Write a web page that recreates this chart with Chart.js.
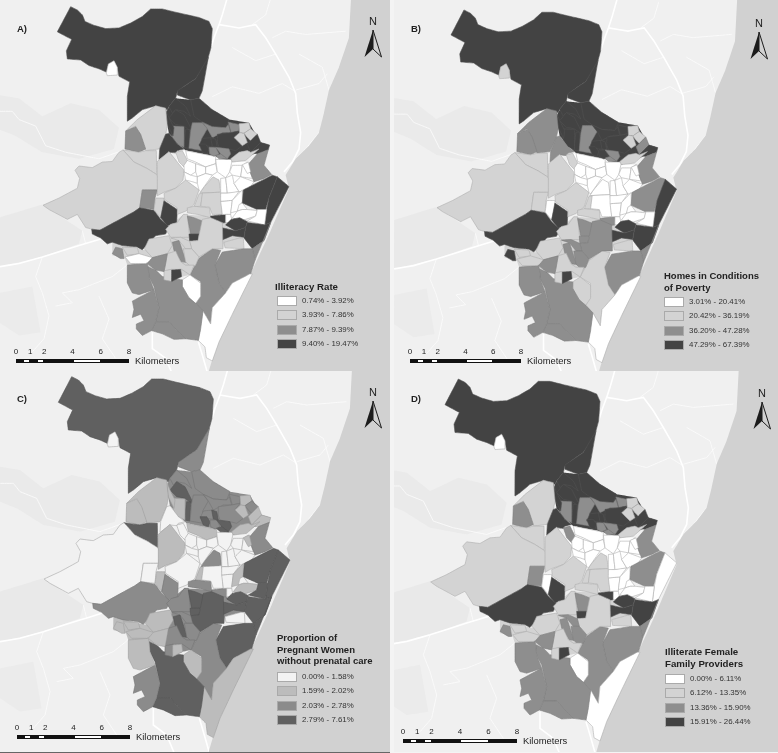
<!DOCTYPE html>
<html lang="en">
<head>
<meta charset="UTF-8">
<title>Maps</title>
<script src="https://cdn.jsdelivr.net/npm/chart.js"></script>
<style>
  html, body { margin: 0; padding: 0; background: #f4f4f4; }
  body { position: relative; width: 778px; height: 753px; overflow: hidden; font-family: "Liberation Sans", Arial, sans-serif; color: #222; }
  canvas { position: absolute; filter: blur(0.4px); }
  .lbl { position: absolute; white-space: nowrap; line-height: 1; transform: translateY(-50%); }
  .swatch { position: absolute; width: 20px; height: 10px; box-sizing: border-box; border: 1px solid #aaa; }
  .seg { position: absolute; height: 4px; box-sizing: border-box; border: 1px solid #111; }
  svg { position: absolute; }
</style>
</head>
<body>
<script>
// map units: 3x pixels of the lower left map, every panel has its own offset and scale
const sea = [[1058,-60],[1050,100],[1020,190],[990,260],[975,330],[960,390],[930,430],[890,470],[860,520],[870,560],[815,690],[765,800],[700,940],[650,1050],[622,1145],[1250,1145],[1250,-60]];
const shadeWest = [[0,275],[60,285],[130,340],[215,300],[300,320],[360,375],[345,440],[240,470],[130,450],[50,400],[0,380]];
const shadeSouth = [[0,650],[130,610],[250,690],[240,730],[130,770],[0,800]];
const shadeLow = [[0,880],[100,860],[125,1000],[60,1010],[0,970]];

const roadsWide = [
  [[0,800],[60,790],[130,770],[240,735],[305,715]],
  [[660,60],[720,70],[770,60],[800,100],[830,150],[870,220],[890,270],[895,330],[905,390],[900,440],[880,480],[855,510]],
  [[690,-40],[670,30],[660,60],[645,100],[636,130]],
  [[460,1000],[460,1050],[500,1080],[525,1140]],
  [[598,1030],[610,1070],[630,1140]]
];
const roadsThin = [
  [[760,60],[800,30],[815,-20]],
  [[900,150],[970,190],[990,260]],
  [[890,260],[960,240],[985,210]],
  [[640,280],[700,250],[780,270],[850,240],[890,265]],
  [[700,130],[770,170],[830,150]],
  [[880,480],[920,440],[960,390]],
  [[820,100],[860,80],[920,90],[1040,80]],
  [[0,325],[40,325],[60,350],[110,370],[140,430],[200,450],[300,470],[370,445]],
  [[130,770],[110,830],[130,880],[150,950],[135,1020],[100,1060]],
  [[250,690],[260,730]],
  [[390,790],[340,830],[240,870],[190,880],[220,910],[170,920]],
  [[300,890],[330,960],[310,1020],[350,1080]]
];

// drawn first, they close the small gaps between tracts
const underNorth = [[505,320],[530,285],[575,290],[640,320],[690,350],[750,360],[785,420],[812,428],[780,450],[700,480],[650,463],[560,445],[555,440],[510,392],[500,340]];
const underCentre = [[530,450],[560,445],[700,480],[745,480],[765,540],[730,565],[730,610],[745,625],[700,650],[680,665],[675,640],[665,575],[660,530],[610,560],[600,565],[560,535],[535,480]];
const underSouth = [[500,685],[553,640],[635,645],[680,665],[735,710],[675,725],[672,745],[640,745],[600,775],[573,825],[548,830],[518,845],[495,845],[495,815],[505,760],[515,710]];
const underWest = [[340,725],[430,748],[505,760],[495,815],[447,800],[385,795],[378,775],[340,765]];

const north = [[215,5],[235,15],[250,30],[258,50],[285,62],[320,72],[360,70],[395,55],[430,35],[455,12],[490,12],[530,22],[600,38],[630,50],[640,72],[636,130],[625,170],[615,190],[590,225],[560,245],[535,265],[530,285],[510,310],[505,320],[470,308],[430,320],[400,345],[385,355],[385,280],[392,235],[360,218],[355,190],[345,170],[328,180],[322,205],[300,195],[270,185],[245,168],[205,165],[202,140],[218,105],[175,82]];
const island = [[322,208],[328,180],[345,170],[355,190],[355,214],[325,216]];
const stripNE = [[628,160],[610,262],[600,285],[575,290],[535,275],[535,262],[590,225]];
const neckA = [[510,310],[530,285],[560,310],[575,340],[555,325],[530,320],[520,330]];
const neckB = [[575,290],[600,285],[640,320],[690,350],[680,375],[640,372],[610,358],[585,340]];
const neckC = [[510,345],[530,320],[555,335],[575,375],[575,385],[555,370],[530,365]];
const neckD = [[560,380],[572,380],[570,438],[553,435]];
const neckE = [[520,370],[555,372],[555,435],[535,425],[520,405]];
const neckF = [[500,320],[510,345],[525,375],[522,400],[505,365]];
const westUpper = [[380,385],[415,350],[470,308],[500,315],[505,370],[500,395],[480,440],[440,445],[425,400],[410,370]];
const westInner = [[380,385],[410,372],[425,395],[440,440],[420,450],[378,440]];
const westWedge = [[510,392],[520,405],[535,425],[555,440],[535,445],[530,452],[510,450],[480,472],[482,440],[500,395]];
const westTri = [[372,443],[420,450],[440,445],[472,445],[473,518],[445,500],[405,480]];
const westBig = [[372,443],[405,480],[445,500],[473,518],[483,535],[475,565],[430,565],[422,620],[405,632],[303,688],[278,685],[260,680],[235,640],[205,655],[150,625],[132,612],[180,590],[235,560],[242,530],[228,505],[240,492],[280,497],[310,480],[340,478],[360,450]];
const midSquare = [[430,565],[475,565],[468,590],[465,625],[422,620]];
const midTall = [[475,478],[510,448],[535,480],[555,505],[552,535],[530,560],[495,572],[475,583]];
const midSliver = [[470,590],[495,590],[495,610],[485,650],[465,625]];
const midDark = [[495,598],[535,625],[533,665],[505,675],[485,650]];
const midWide = [[495,575],[530,560],[560,535],[600,565],[585,610],[560,630],[535,640],[535,620],[497,595]];
const midPeak = [[603,575],[612,560],[642,525],[660,535],[665,572]];
const midStrip = [[600,577],[612,575],[605,615],[585,617]];
const midBox = [[610,575],[665,572],[670,640],[640,640],[632,618],[605,615]];
const midBar = [[565,620],[585,615],[632,620],[635,650],[595,640],[565,635]];
const midTip = [[635,645],[680,640],[680,665],[650,668],[635,650]];
const centreBand = [[560,445],[650,463],[650,485],[620,495],[590,480],[565,470]];
const cell1 = [[530,450],[550,445],[565,475],[555,495],[540,480]];
const cell2 = [[555,490],[565,475],[590,485],[590,510],[575,520],[556,510]];
const cell3 = [[590,485],[620,495],[620,515],[595,525],[590,510]];
const cell4 = [[620,495],[650,485],[655,510],[640,520],[620,515]];
const cell5 = [[650,472],[700,472],[692,510],[680,528],[655,510]];
const cell6 = [[555,510],[575,520],[595,525],[595,545],[580,540],[560,535]];
const cell7 = [[595,525],[620,515],[640,520],[605,570],[600,565],[595,545]];
const cell8 = [[665,530],[680,528],[685,575],[665,575]];
const cell9 = [[680,528],[700,520],[705,545],[720,570],[700,575],[685,575]];
const cell10 = [[692,510],[700,490],[730,490],[725,525],[700,520]];
const cell11 = [[730,490],[745,480],[760,530],[725,525]];
const cell12 = [[705,545],[725,525],[765,540],[755,555],[730,570],[720,570]];
const cell13 = [[665,600],[700,597],[695,640],[670,640]];
const cell14 = [[685,575],[720,570],[700,597],[665,600],[665,575]];
const cell15 = [[680,640],[695,640],[700,665],[680,665]];
const eastSliver = [[700,597],[730,565],[730,600],[715,630],[695,635]];
const eastNotch = [[720,610],[730,605],[745,625],[730,625],[715,630]];
const eastLow = [[745,625],[775,628],[770,645],[725,660],[700,650],[715,630],[730,625]];
const eastBlock = [[733,565],[820,520],[835,525],[810,590],[800,625],[775,625],[730,605]];
const eastCoast = [[835,525],[870,555],[815,665],[797,672],[803,625],[810,590]];
const eastCorner = [[775,625],[803,625],[797,672],[745,660],[770,645]];
const row1 = [[697,655],[722,650],[745,662],[740,680],[710,690],[680,672]];
const row2 = [[665,680],[710,690],[740,680],[735,710],[700,705],[665,720]];
const row3 = [[745,665],[797,672],[815,665],[795,720],[760,745],[735,712],[740,680]];
const coastMid = [[815,665],[768,780],[760,745],[795,720]];
const smallBlock = [[675,725],[722,712],[733,713],[735,745],[678,742]];
const southEast = [[648,795],[670,755],[735,745],[760,745],[768,780],[755,822],[700,850],[680,880],[660,850]];
const southMid = [[573,825],[600,775],[640,745],[665,750],[648,795],[660,850],[680,880],[655,915],[640,925],[635,975],[612,935],[590,912],[605,845]];
const southWhite = [[550,840],[573,825],[605,850],[605,890],[590,912],[570,895],[550,860]];
const beach = [[752,822],[760,822],[700,945],[660,1030],[640,1088],[622,1078],[618,1045],[598,1025],[612,935],[635,975],[640,925],[680,880],[700,850]];
const southBig = [[447,800],[470,810],[490,830],[530,838],[550,840],[550,860],[570,895],[590,912],[612,935],[605,990],[598,1025],[560,1020],[530,990],[510,968],[470,968],[480,925],[465,860],[450,830]];
const southFoot = [[458,995],[470,968],[510,968],[530,990],[560,1020],[525,1022],[490,1005]];
const southWest = [[400,905],[465,870],[480,925],[470,968],[458,995],[430,1010],[412,990],[412,975],[435,965],[425,945],[400,955],[405,930]];
const southUpper = [[385,795],[445,790],[447,800],[450,830],[465,870],[420,885],[400,880],[385,850]];
const waist = [[278,685],[303,688],[405,632],[422,620],[465,628],[485,655],[510,678],[500,700],[470,705],[430,748],[415,740],[370,735],[340,725],[325,730],[305,712],[280,700]];
const lowA = [[436,745],[450,715],[510,705],[520,735],[505,760],[460,772]];
const lowB = [[500,685],[515,670],[535,665],[553,640],[565,640],[570,690],[572,710],[545,710],[515,710]];
const lowC = [[565,645],[585,650],[610,660],[610,690],[600,700],[575,700]];
const lowD = [[570,700],[600,700],[597,720],[572,722]];
const lowE = [[610,655],[635,650],[670,665],[672,745],[640,745],[600,770],[578,745],[572,722],[597,720]];
const lowF = [[515,712],[545,710],[572,722],[578,745],[560,745],[540,720]];
const lowG = [[520,725],[540,720],[562,787],[548,785],[525,750]];
const lowH = [[553,745],[578,745],[600,770],[590,795],[575,800],[560,785]];
const lowI = [[505,760],[530,752],[545,785],[560,795],[585,795],[573,825],[548,808],[518,808],[495,815]];
const lowJ = [[495,812],[518,808],[518,845],[495,840]];
const lowK = [[518,810],[545,808],[548,830],[518,845]];
const lowL = [[340,760],[350,740],[370,745],[375,775],[365,775]];
const lowM = [[370,740],[415,742],[420,760],[385,765]];
const lowN = [[378,770],[420,760],[470,775],[440,790],[395,790]];
const lowO = [[460,772],[505,760],[500,790],[495,815],[470,810],[445,790]];
const neA = [[580,360],[610,360],[625,378],[608,408],[610,445],[570,438],[575,385]];
const neB = [[610,358],[640,372],[680,375],[688,365],[695,390],[670,390],[640,405],[625,378]];
const neC = [[688,358],[720,365],[720,385],[697,390]];
const neD = [[655,395],[695,390],[720,385],[705,405],[730,430],[710,445],[690,440],[660,435],[655,420]];
const neE = [[720,363],[750,360],[755,378],[735,392],[722,390]];
const neF = [[735,392],[755,378],[775,395],[755,415],[745,405]];
const neG = [[705,405],[722,390],[735,392],[745,420],[730,430]];
const neH = [[775,395],[785,420],[755,450],[745,425],[755,415]];
const neI = [[785,420],[812,428],[808,442],[775,455],[755,450]];
const neJ = [[610,408],[640,405],[655,420],[650,435],[620,430],[600,430]];
const neK1 = [[600,425],[620,425],[630,440],[625,455],[610,450]];
const neK2 = [[630,435],[650,435],[660,455],[645,462],[632,455]];
const neK3 = [[635,405],[650,410],[655,435],[640,432]];
const neK4 = [[650,435],[690,440],[695,455],[685,470],[665,455]];
const neK5 = [[650,460],[665,455],[685,470],[660,470]];
const neBand = [[695,470],[720,450],[745,445],[755,450],[780,440],[740,475],[700,480]];
const neEast = [[808,442],[775,455],[745,490],[765,540],[795,530],[818,518],[795,490]];
const neCell = [[730,488],[748,480],[755,510],[745,515]];

const tractShapes = [underNorth, underCentre, underSouth, underWest,
  north, island, stripNE, neckA, neckB, neckC, neckD, neckE, neckF, westUpper, westInner, westWedge, westTri, westBig,
  midSquare, midTall, midSliver, midDark, midWide, midPeak, midStrip, midBox, midBar, midTip,
  centreBand, cell1, cell2, cell3, cell4, cell5, cell6, cell7, cell8, cell9, cell10, cell11, cell12, cell13, cell14, cell15,
  eastSliver, eastNotch, eastLow, eastBlock, eastCoast, eastCorner, row1, row2, row3, coastMid, smallBlock,
  southEast, southMid, southWhite, beach, southBig, southFoot, southWest, southUpper, waist,
  lowA, lowB, lowC, lowD, lowE, lowF, lowG, lowH, lowI, lowJ, lowK, lowL, lowM, lowN, lowO,
  neA, neB, neC, neD, neE, neF, neG, neH, neI, neJ, neK1, neK2, neK3, neK4, neK5, neBand, neEast, neCell];

// class of every tract (0 lightest .. 3 darkest), same order as tractShapes
const classA = [3,0,1,1, 3,0,3,3,3,3,3,2,3,1,2,3,1,1, 2,1,1,3,1,1,1,1,1,3, 0,1,0,0,0,0,0,0,0,0,0,0,0,0,0,0, 0,0,0,3,3,0,3,3,3,2,1, 2,2,0,0,2,2,2,2,3, 1,1,2,3,1,1,2,1,1,1,3,2,1,0,2, 2,2,2,3,1,1,1,3,3,3,3,2,3,2,2,1,2,0];
const classB = [3,0,1,1, 3,1,3,3,3,3,3,3,3,2,2,2,1,1, 1,1,0,3,1,0,1,0,1,2, 0,1,0,0,0,0,0,0,0,0,0,0,0,0,0,0, 0,0,0,2,3,0,3,3,3,2,1, 2,1,1,0,2,2,2,2,3, 1,1,2,2,2,2,2,2,1,1,3,3,1,1,2, 2,3,3,3,1,1,1,2,3,3,3,3,3,2,2,1,2,0];
const classC = [2,0,2,1, 3,0,2,2,2,3,3,1,1,1,1,0,3,0, 0,1,1,2,0,2,1,0,2,2, 1,0,0,0,0,0,0,0,0,0,0,0,0,0,0,0, 1,0,1,3,3,3,3,3,3,3,0, 3,2,1,1,3,3,2,1,2, 1,2,3,3,3,2,3,2,2,2,1,1,1,1,1, 2,2,2,2,1,2,1,1,1,2,3,2,3,3,3,1,2,1];
const classD = [3,0,1,1, 3,0,3,3,3,3,3,2,3,1,2,3,1,1, 2,1,0,3,1,1,1,1,1,3, 0,2,0,0,0,0,0,0,0,0,0,0,0,0,0,0, 0,0,0,2,0,0,3,3,3,2,1, 2,2,0,0,2,2,2,2,3, 1,1,2,3,1,2,2,2,1,1,3,2,1,1,2, 2,2,2,3,1,1,1,3,3,3,3,2,3,2,2,1,2,0];

const colorsDark = ['#ffffff', '#d3d3d3', '#8e8e8e', '#434343'];
const colorsC = ['#f3f3f3', '#bcbcbc', '#8b8b8b', '#606060'];
const edgesDark = ['#adadad', '#adadad', '#7d7d7d', '#525252'];
const edgesC = ['#a4a4a4', '#9f9f9f', '#747474', '#525252'];

const titleA = ['Illiteracy Rate'];
const titleB = ['Homes in Conditions', 'of Poverty'];
const titleC = ['Proportion of', 'Pregnant Women', 'without prenatal care'];
const titleD = ['Illiterate Female', 'Family Providers'];
const rangesA = ['0.74% - 3.92%', '3.93% - 7.86%', '7.87% - 9.39%', '9.40% - 19.47%'];
const rangesB = ['3.01% - 20.41%', '20.42% - 36.19%', '36.20% - 47.28%', '47.29% - 67.39%'];
const rangesC = ['0.00% - 1.58%', '1.59% - 2.02%', '2.03% - 2.78%', '2.79% - 7.61%'];
const rangesD = ['0.00% - 6.11%', '6.12% - 13.35%', '13.36% - 15.90%', '15.91% - 26.44%'];
const scaleTicks = [0, 1, 2, 4, 6, 8];

function toPoints(list, close) {
  const pts = list.map(p => ({ x: p[0], y: p[1] }));
  if (close) pts.push(pts[0]);
  return pts;
}

function text(str, x, y, size, bold) {
  const d = document.createElement('div');
  d.className = 'lbl';
  d.textContent = str;
  d.style.left = x + 'px';
  d.style.top = y + 'px';
  d.style.fontSize = size + 'px';
  if (bold) d.style.fontWeight = 'bold';
  document.body.appendChild(d);
  return d;
}

function drawMap(p) {
  const cv = document.createElement('canvas');
  cv.width = p.w;
  cv.height = p.h;
  cv.style.left = p.left + 'px';
  cv.style.top = p.top + 'px';
  cv.style.background = '#f0f0f0';
  document.body.appendChild(cv);

  // tiny tension: with 0 the line takes its fast path, which assumes x is sorted
  const base = { showLine: true, pointRadius: 0, tension: 0.001 };
  const sets = [];
  const shape = (list, fill) => sets.push({ ...base, data: toPoints(list, true), fill: 'shape', backgroundColor: fill, borderWidth: 0 });
  shape(shadeWest, '#eaeaea');
  shape(shadeSouth, '#e9e9e9');
  shape(shadeLow, '#ebebeb');
  roadsThin.forEach(r => sets.push({ ...base, data: toPoints(r), fill: false, borderColor: '#fafafa', borderWidth: 0.9 }));
  roadsWide.forEach(r => sets.push({ ...base, data: toPoints(r), fill: false, borderColor: '#ffffff', borderWidth: 1.6 }));
  shape(sea, '#d1d1d1');
  tractShapes.forEach((t, i) => sets.push({
    ...base,
    data: toPoints(t, true), fill: 'shape',
    backgroundColor: p.colors[p.classes[i]],
    borderColor: i < 4 ? p.colors[p.classes[i]] : p.edges[p.classes[i]],
    borderWidth: i < 4 ? 0 : 0.6
  }));

  new Chart(cv, {
    type: 'scatter',
    data: { datasets: sets.reverse() }, // first dataset is painted last
    options: {
      responsive: false,
      animation: false,
      layout: { padding: 0 },
      plugins: { legend: { display: false }, tooltip: { enabled: false } },
      scales: {
        x: { type: 'linear', display: false, min: (p.left - p.x0) / p.kx, max: (p.left + p.w - p.x0) / p.kx },
        y: { type: 'linear', display: false, min: (p.top - p.y0) / p.ky, max: (p.top + p.h - p.y0) / p.ky, reverse: true }
      }
    }
  });

  // letter
  text(p.letter, p.letterX, p.letterY, 9.5, true);

  // north arrow
  const ns = 'http://www.w3.org/2000/svg';
  const svg = document.createElementNS(ns, 'svg');
  svg.setAttribute('width', 18);
  svg.setAttribute('height', 28);
  svg.style.left = p.arrowX + 'px';
  svg.style.top = p.arrowY + 'px';
  svg.innerHTML = '<path d="M9 0 L0.5 27 L9 19 Z" fill="#1c1c1c"/><path d="M9 0 L17.5 27 L9 19 Z" fill="none" stroke="#1c1c1c" stroke-width="1"/>';
  document.body.appendChild(svg);
  text('N', p.arrowX + 9, p.arrowY - 9.5, 11, false).style.transform = 'translate(-50%,-50%)';

  // legend
  p.title.forEach((t, i) => text(t, p.titleX, p.titleY + i * p.titleGap, p.titleSize, true));
  p.ranges.forEach((t, i) => {
    const s = document.createElement('div');
    s.className = 'swatch';
    s.style.left = p.swX + 'px';
    s.style.top = (p.swY + i * 14.4) + 'px';
    s.style.background = p.colors[i];
    document.body.appendChild(s);
    text(t, p.swX + 25, p.swY + 5 + i * 14.4, 7.9, false).style.color = '#333';
  });

  // scale bar
  const kmW = p.barW / 8;
  [[0, .5, '#111'], [.5, 1, '#fff'], [1, 1.5, '#111'], [1.5, 2, '#fff'], [2, 4, '#111'], [4, 6, '#fff'], [6, 8, '#111']].forEach(b => {
    const s = document.createElement('div');
    s.className = 'seg';
    s.style.left = (p.barX + b[0] * kmW) + 'px';
    s.style.top = p.barY + 'px';
    s.style.width = ((b[1] - b[0]) * kmW) + 'px';
    s.style.background = b[2];
    document.body.appendChild(s);
  });
  scaleTicks.forEach(v => { text(String(v), p.barX + v * kmW, p.barY - 7, 8, false).style.transform = 'translate(-50%,-50%)'; });
  text('Kilometers', p.barX + p.barW + 6, p.barY + 2, 9.4, false);
}

drawMap({ left: 0, top: 0, w: 390, h: 371, kx: 1/3, x0: -1, ky: 0.9815/3, y0: 5.03, classes: classA, colors: colorsDark, edges: edgesDark,
  letter: 'A)', letterX: 17, letterY: 29, arrowX: 364, arrowY: 30, title: titleA, titleX: 275, titleY: 287, titleGap: 12, titleSize: 9.7, ranges: rangesA, swX: 277, swY: 296, barX: 16, barY: 359, barW: 113 });
drawMap({ left: 394, top: 0, w: 384, h: 371, kx: 0.974/3, x0: 394.17, ky: 0.977/3, y0: 8.33, classes: classB, colors: colorsDark, edges: edgesDark,
  letter: 'B)', letterX: 411, letterY: 29, arrowX: 750, arrowY: 32, title: titleB, titleX: 664, titleY: 276, titleGap: 11.6, titleSize: 9.5, ranges: rangesB, swX: 664, swY: 297, barX: 410, barY: 359, barW: 111 });
drawMap({ left: 0, top: 371, w: 390, h: 381, kx: 1/3, x0: 0, ky: 1/3, y0: 375, classes: classC, colors: colorsC, edges: edgesC,
  letter: 'C)', letterX: 17, letterY: 399, arrowX: 364, arrowY: 401, title: titleC, titleX: 277, titleY: 638, titleGap: 11.6, titleSize: 9.5, ranges: rangesC, swX: 277, swY: 672, barX: 17, barY: 735, barW: 113 });
drawMap({ left: 394, top: 371, w: 384, h: 381, kx: 1/3, x0: 386.67, ky: 1.003/3, y0: 377.33, classes: classD, colors: colorsDark, edges: edgesDark,
  letter: 'D)', letterX: 411, letterY: 399, arrowX: 753, arrowY: 402, title: titleD, titleX: 665, titleY: 652, titleGap: 11.6, titleSize: 9.7, ranges: rangesD, swX: 665, swY: 674, barX: 403, barY: 739, barW: 114 });

const rule = document.createElement('div');
rule.style.cssText = 'position:absolute;left:0;top:752px;width:390px;height:1px;background:#666';
document.body.appendChild(rule);
</script>
</body>
</html>
